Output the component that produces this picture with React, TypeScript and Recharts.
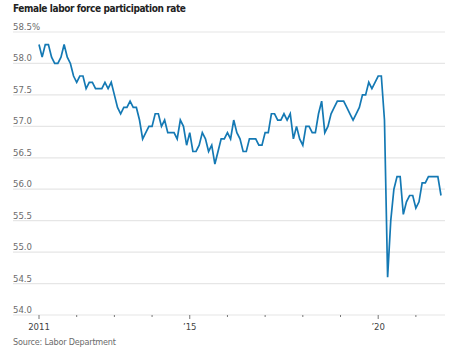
import { LineChart, Line, XAxis, YAxis, ReferenceLine } from 'recharts'

// monthly, Jan 2011 – Sep 2021
const femaleRate = [
  58.3, 58.1, 58.3, 58.3, 58.1, 58.0, 58.0, 58.1, 58.3, 58.1, 58.0, 57.8,
  57.7, 57.8, 57.8, 57.6, 57.7, 57.7, 57.6, 57.6, 57.6, 57.7, 57.6, 57.7,
  57.5, 57.3, 57.2, 57.3, 57.3, 57.4, 57.3, 57.3, 57.1, 56.8, 56.9, 57.0,
  57.0, 57.2, 57.2, 57.0, 57.1, 56.9, 56.9, 56.9, 56.8, 57.1, 57.0, 56.7,
  56.9, 56.6, 56.6, 56.7, 56.9, 56.8, 56.6, 56.7, 56.4, 56.6, 56.8, 56.8,
  56.9, 56.8, 57.1, 56.9, 56.8, 56.6, 56.6, 56.8, 56.8, 56.8, 56.7, 56.7,
  56.9, 56.9, 57.2, 57.2, 57.1, 57.1, 57.2, 57.1, 57.2, 56.8, 57.0, 56.8,
  56.7, 57.0, 57.0, 56.9, 56.9, 57.2, 57.4, 56.9, 57.0, 57.2, 57.3, 57.4,
  57.4, 57.4, 57.3, 57.2, 57.1, 57.2, 57.3, 57.5, 57.5, 57.7, 57.6, 57.7,
  57.8, 57.8, 57.1, 54.6, 55.5, 56.0, 56.2, 56.2, 55.6, 55.8, 55.9, 55.9,
  55.7, 55.8, 56.1, 56.1, 56.2, 56.2, 56.2, 56.2, 55.9,
]

const yTicks = [54, 54.5, 55, 55.5, 56, 56.5, 57, 57.5, 58, 58.5]
const yearTicks = [0, 12, 24, 36, 48, 60, 72, 84, 96, 108, 120]
const yearLabels: Record<number, string> = { 0: '2011', 48: '\u201915', 108: '\u201920' }

const data = femaleRate.map((v, i) => ({ m: i, rate: v }))

const FONT = "'Liberation Sans Narrow', 'DejaVu Sans Condensed', 'Liberation Sans', sans-serif"
const PLOT_LEFT = 13

function GridLabel({ viewBox, value }: any) {
  return (
    <text x={viewBox.x} y={viewBox.y - 2} fontSize={9.5} fill="#6b6b6b" fontFamily={FONT} textAnchor="start">
      {value}
    </text>
  )
}

function XTick({ x, y, payload }: any) {
  const label = yearLabels[payload.value]
  const top = y - 8
  return (
    <g>
      <line x1={x} x2={x} y1={top} y2={top + (label ? 4 : 2)} stroke="#777" strokeWidth={1} />
      {label && (
        <text x={x} y={top + 15} fontSize={9.5} fill="#444" fontFamily={FONT} textAnchor="middle">
          {label}
        </text>
      )}
    </g>
  )
}

export default function App() {
  return (
    <div style={{ position: 'absolute', left: 0, top: 0, width: 457, height: 353, background: '#fff' }}>
      <div
        style={{
          position: 'absolute', left: PLOT_LEFT, top: 3, fontFamily: FONT, fontWeight: 700,
          fontSize: 10, letterSpacing: -0.4, color: '#222', whiteSpace: 'nowrap',
        }}
      >
        Female labor force participation rate
      </div>
      <LineChart width={457} height={353} data={data} margin={{ top: 32, right: 12, bottom: 8, left: PLOT_LEFT }}>
        <XAxis
          dataKey="m"
          type="number"
          domain={[0, 128]}
          ticks={yearTicks}
          interval={0}
          padding={{ left: 26, right: 4 }}
          height={30}
          axisLine={false}
          tickLine={false}
          tick={<XTick />}
        />
        <YAxis domain={[54, 58.5]} ticks={yTicks} width={0} hide />
        {yTicks.map((t) => (
          <ReferenceLine
            key={t}
            y={t}
            stroke="#e6e6e6"
            strokeWidth={1.2}
            label={<GridLabel value={t === 58.5 ? '58.5%' : t.toFixed(1)} />}
          />
        ))}
        <Line
          type="linear"
          dataKey="rate"
          stroke="#1479b4"
          strokeWidth={1.7}
          dot={false}
          isAnimationActive={false}
        />
      </LineChart>
      <div
        style={{
          position: 'absolute', left: PLOT_LEFT, top: 337, fontFamily: FONT, fontSize: 9,
          letterSpacing: -0.2, color: '#6b6b6b', whiteSpace: 'nowrap',
        }}
      >
        Source: Labor Department
      </div>
    </div>
  )
}
